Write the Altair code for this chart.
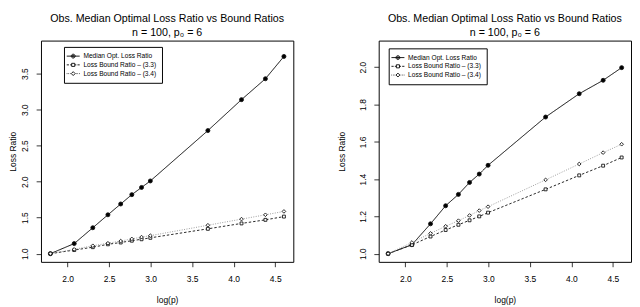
import altair as alt
import pandas as pd

# ---- data ----
log_p = [1.792, 2.079, 2.303, 2.485, 2.639, 2.773, 2.890, 2.996, 3.689, 4.094, 4.382, 4.605]

left_median = [1.00, 1.14, 1.36, 1.54, 1.69, 1.82, 1.92, 2.01, 2.71, 3.14, 3.43, 3.74]
left_bound33 = [1.00, 1.05, 1.09, 1.13, 1.155, 1.18, 1.20, 1.22, 1.345, 1.42, 1.47, 1.515]
left_bound34 = [1.00, 1.06, 1.11, 1.145, 1.175, 1.205, 1.23, 1.25, 1.395, 1.48, 1.54, 1.587]

right_median = [1.00, 1.048, 1.16, 1.257, 1.318, 1.382, 1.427, 1.474, 1.733, 1.858, 1.93, 1.998]
right_bound33 = [1.00, 1.047, 1.092, 1.127, 1.155, 1.179, 1.20, 1.22, 1.345, 1.42, 1.472, 1.516]
right_bound34 = [1.00, 1.06, 1.109, 1.147, 1.177, 1.205, 1.231, 1.252, 1.396, 1.481, 1.542, 1.587]

series_names = ["Median Opt. Loss Ratio", "Loss Bound Ratio \u2013 (3.3)", "Loss Bound Ratio \u2013 (3.4)"]
title_lines = ["Obs. Median Optimal Loss Ratio vs Bound Ratios", "n = 100, p\u2080 = 6"]
x_title = "log(p)"
y_title = "Loss Ratio"
x_ticks = [2.0, 2.5, 3.0, 3.5, 4.0, 4.5]
left_y_ticks = [1.0, 1.5, 2.0, 2.5, 3.0, 3.5]
right_y_ticks = [1.0, 1.2, 1.4, 1.6, 1.8, 2.0]

FONT = "Liberation Sans"

# per-series styles
marker_shapes = ["circle", "square", "diamond"]
marker_fills = ["#000000", "#ffffff", "#ffffff"]
marker_sizes = [17, 9, 14]
line_colors = ["#000000", "#222222", "#9a9a9a"]
line_dashes = [[1, 0], [2.5, 2], [1, 1.5]]

# legend symbols: line segment + marker (unit coordinates, stroke only)
legend_paths = [
    "M-1.67,0H1.67M0.5,0A0.5,0.5,0,1,1,-0.5,0A0.5,0.5,0,1,1,0.5,0"
    "M0.25,0A0.25,0.25,0,1,1,-0.25,0A0.25,0.25,0,1,1,0.25,0",
    "M-1.67,0H-1.1M-0.8,0H-0.4M-0.4,-0.4H0.4V0.4H-0.4ZM0.4,0H0.8M1.1,0H1.67",
    "M-1.67,0H-1.5M-1.25,0H-1.1M-0.85,0H-0.7M0,-0.5L0.5,0L0,0.5L-0.5,0ZM0.7,0H0.85M1.1,0H1.25M1.5,0H1.67",
]


def long_frame(series_values):
    rows = []
    for name, vals in zip(series_names, series_values):
        for xv, yv in zip(log_p, vals):
            rows.append({"logp": xv, "ratio": yv, "series": name})
    return pd.DataFrame(rows)


def panel(df, y_domain, y_ticks, lx, ly, tpad):
    x = alt.X(
        "logp:Q",
        scale=alt.Scale(domain=[1.679, 4.718], nice=False, zero=False),
        axis=alt.Axis(values=x_ticks, format=".1f", title=x_title,
                      labelPadding=8.5, titlePadding=13, minExtent=22, maxExtent=22),
    )
    y = alt.Y(
        "ratio:Q",
        scale=alt.Scale(domain=y_domain, nice=False, zero=False),
        axis=alt.Axis(values=y_ticks, format=".1f", title=y_title, labelAngle=-90,
                      labelAlign="center", labelBaseline="bottom", labelPadding=7,
                      titlePadding=tpad, minExtent=21, maxExtent=21),
    )
    base = alt.Chart(df).encode(x=x, y=y)
    lines = base.mark_line(strokeWidth=1).encode(
        color=alt.Color("series:N", scale=alt.Scale(domain=series_names,
                        range=line_colors), legend=None),
        strokeDash=alt.StrokeDash("series:N", scale=alt.Scale(domain=series_names,
                                  range=line_dashes), legend=None),
    )
    point_layers = []
    for name, shp, fil, sz in zip(series_names, marker_shapes, marker_fills, marker_sizes):
        point_layers.append(
            base.transform_filter(alt.datum.series == name).mark_point(
                shape=shp, filled=True, fill=fil, stroke="#111111",
                strokeWidth=0.9, size=sz, opacity=1)
        )
    leg = alt.Legend(orient="none", legendX=lx, legendY=ly, title=None,
                     padding=5, rowPadding=0, labelOffset=6, symbolSize=64,
                     symbolStrokeWidth=0.9, symbolStrokeColor="black",
                     symbolFillColor="transparent", symbolOpacity=1,
                     labelFont=FONT, labelFontSize=6.8,
                     labelColor="black", strokeColor="black", fillColor="white",
                     labelLimit=300)
    legend_layer = base.mark_point(filled=False, opacity=0).encode(
        shape=alt.Shape("series:N", scale=alt.Scale(domain=series_names, range=legend_paths), legend=leg),
    )
    return alt.layer(lines, *point_layers, legend_layer).resolve_scale(
        shape="independent"
    ).properties(
        width=260, height=228,
        title=alt.TitleParams(text=title_lines, fontSize=11, fontWeight="normal",
                              font=FONT, color="black", lineHeight=13.5, offset=3.2),
    )


left = panel(long_frame([left_median, left_bound33, left_bound34]),
             [0.886, 3.96], left_y_ticks, 23.7, 6.5, 3.5)
right = panel(long_frame([right_median, right_bound33, right_bound34]),
              [0.956, 2.143], right_y_ticks, 10.3, 8, 12)

chart = alt.hconcat(left, right, spacing=44, padding=0).configure_view(
    stroke="black", strokeWidth=1
).configure_axis(
    domain=False, grid=False, ticks=True, tickColor="black", tickSize=5, tickWidth=0.8,
    labelFont=FONT, labelFontSize=8.7, labelColor="black",
    titleFont=FONT, titleFontSize=8.7, titleFontWeight="normal", titleColor="black",
)

chart.save("out.html", embed_options={"renderer": "svg", "actions": False})
